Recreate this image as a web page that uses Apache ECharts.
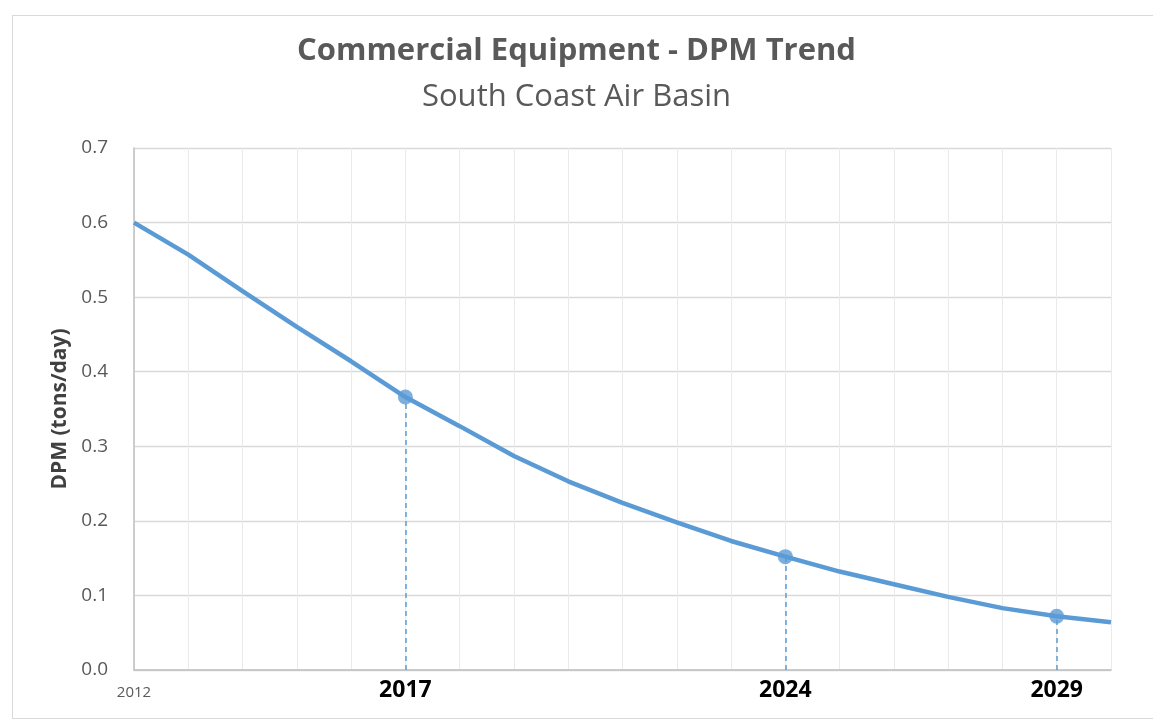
<!DOCTYPE html>
<html>
<head>
<meta charset="utf-8">
<script src="https://cdn.jsdelivr.net/npm/echarts@6/dist/echarts.min.js"></script>
<style>
html,body{margin:0;padding:0;background:#fff;}
#frame{position:absolute;left:12px;top:15px;width:1150px;height:704px;border:1px solid #d9d9d9;box-sizing:border-box;}
#chart{position:absolute;left:0;top:0;width:1153px;height:721px;}
</style>
</head>
<body>
<div id="frame"></div>
<div id="chart"></div>
<script>
const years = [2012,2013,2014,2015,2016,2017,2018,2019,2020,2021,2022,2023,2024,2025,2026,2027,2028,2029,2030];
const dpm = [0.600,0.557,0.508,0.460,0.414,0.366,0.327,0.287,0.253,0.224,0.198,0.173,0.152,0.132,0.115,0.098,0.083,0.072,0.064];
const highlightYears = [2017,2024,2029];
const yTicks = [0,0.1,0.2,0.3,0.4,0.5,0.6,0.7];

const FONT = '"Open Sans"';
const lineData = years.map((y,i)=>[y,dpm[i]]);
const hiData = highlightYears.map(y=>[y,dpm[years.indexOf(y)]]);
const dropLines = hiData.map(p=>[{coord:[p[0],0]},{coord:[p[0],p[1]]}]);

const chart = echarts.init(document.getElementById('chart'));
chart.setOption({
  animation:false,
  title:[
    {text:'Commercial Equipment - DPM Trend',left:'center',top:31,
     textStyle:{fontFamily:FONT,fontSize:31,fontWeight:'bold',color:'#595959'}},
    {text:'South Coast Air Basin',left:'center',top:77,
     textStyle:{fontFamily:FONT,fontSize:31,fontWeight:'normal',color:'#595959'}}
  ],
  grid:{left:134,right:42,top:148,bottom:51,containLabel:false},
  xAxis:{
    type:'value',min:years[0],max:years[years.length-1],interval:1,
    axisLine:{show:true,lineStyle:{color:'#bfbfbf',width:1.5}},
    axisTick:{show:false},
    splitLine:{show:true,lineStyle:{color:'#ebebeb',width:1}},
    axisLabel:{
      showMinLabel:true,showMaxLabel:true,
      formatter:function(v){
        if(v===years[0]) return '{s|'+v+'}';
        if(highlightYears.indexOf(v)>=0) return '{b|'+v+'}';
        return '';
      },
      rich:{
        s:{fontFamily:FONT,fontSize:15,color:'#595959',padding:[6,0,0,0]},
        b:{fontFamily:FONT,fontSize:23,fontWeight:'bold',color:'#000'}
      },
      margin:9
    }
  },
  yAxis:{
    type:'value',min:yTicks[0],max:yTicks[yTicks.length-1],interval:0.1,
    name:'DPM (tons/day)',nameLocation:'middle',nameGap:63,
    nameTextStyle:{fontFamily:FONT,fontSize:21,fontWeight:'bold',color:'#404040'},
    axisLine:{show:true,lineStyle:{color:'#bfbfbf',width:1.5}},
    axisTick:{show:false},
    splitLine:{show:true,lineStyle:{color:'#d9d9d9',width:1.3}},
    axisLabel:{fontFamily:FONT,fontSize:19,color:'#595959',margin:26,
      formatter:v=>v.toFixed(1)}
  },
  series:[
    {type:'line',data:lineData,symbol:'none',
     lineStyle:{color:'#5b9bd5',width:4.5},
     markLine:{silent:true,symbol:'none',label:{show:false},
       lineStyle:{color:'#5b9bd5',type:[5,4],width:1.5},data:dropLines},
     z:3},
    {type:'scatter',data:hiData,symbol:'circle',symbolSize:15,
     itemStyle:{color:'#5b9bd5'},z:4}
  ]
});
</script>
</body>
</html>
